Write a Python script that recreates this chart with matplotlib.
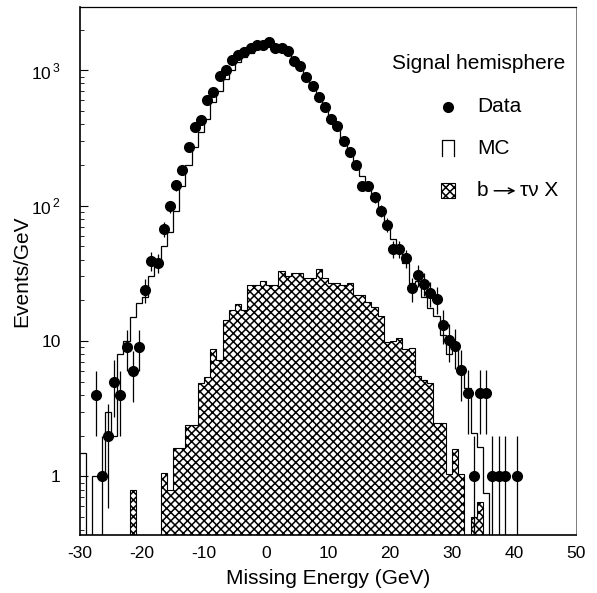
import numpy as np
import matplotlib
matplotlib.use("Agg")
import matplotlib.pyplot as plt
from matplotlib.patches import Rectangle

plt.rcParams['font.family'] = ['Liberation Sans', 'DejaVu Sans']
plt.rcParams['mathtext.fontset'] = 'custom'
plt.rcParams['mathtext.rm'] = 'Liberation Sans'
plt.rcParams['axes.unicode_minus'] = False
plt.rcParams['hatch.linewidth'] = 1.1

# data points (bin centres, events/GeV)
data_e = [-27.5, -26.5, -25.5, -24.5, -23.5, -22.5, -21.5, -20.5, -19.5, -18.5,
          -17.5, -16.5, -15.5, -14.5, -13.5, -12.5, -11.5, -10.5, -9.5, -8.5,
          -7.5, -6.5, -5.5, -4.5, -3.5, -2.5, -1.5, -0.5, 0.5, 1.5,
          2.5, 3.5, 4.5, 5.5, 6.5, 7.5, 8.5, 9.5, 10.5, 11.5,
          12.5, 13.5, 14.5, 15.5, 16.5, 17.5, 18.5, 19.5, 20.5, 21.5,
          22.5, 23.5, 24.5, 25.5, 26.5, 27.5, 28.5, 29.5, 30.5, 31.5,
          32.5, 33.5, 34.5, 35.5, 36.5, 37.5, 38.5, 40.5]
data_n = [4, 1, 2, 5, 4, 9, 6, 9, 24, 39,
          38, 67, 99, 141, 182, 272, 380, 430, 600, 690,
          910, 1000, 1200, 1290, 1360, 1470, 1550, 1530, 1620, 1450,
          1450, 1400, 1180, 1070, 900, 770, 640, 540, 440, 390,
          300, 250, 199, 140, 140, 115, 92, 72, 48, 48,
          41, 24.5, 30.7, 26.6, 22.6, 20.5, 13.2, 10.2, 9.2, 6.1,
          4.1, 1, 4.1, 4.1, 1, 1, 1, 1]

# MC histogram, 1 GeV bins starting at -30
mc_start = -30
mc_vals = [1.5, 0, 1.0, 1.0, 3.0, 2.0, 8.0, 10, 15, 19,
           21, 30, 37, 50, 64, 92, 140, 200, 270, 350,
           440, 580, 700, 860, 1000, 1150, 1260, 1350, 1440, 1500,
           1520, 1500, 1440, 1380, 1230, 1080, 930, 790, 660, 550,
           455, 380, 310, 255, 205, 165, 135, 112, 92, 74,
           57, 48, 38, 27, 28, 21, 17.4, 15.4, 11, 8,
           9, 6.5, 4.5, 2.1, 1.65, 0.75, 0, 0]

# b -> tau nu X, 1 GeV bins starting at -22
sig_start = -22
sig_vals = [0.8, 0, 0, 0, 0, 1.06, 0.8, 1.63, 1.63, 2.4,
            2.4, 4.9, 5.4, 8.7, 7.3, 14.4, 16.9, 18.9, 16.9, 26,
            26, 28, 26, 26, 32.7, 30, 32, 32, 29, 29,
            34, 29, 27, 27, 25.9, 26.7, 21.8, 22, 19.5, 17.8,
            15.4, 9.8, 10, 10.6, 8.7, 8.9, 5.5, 5.2, 4.9, 2.5,
            2.5, 1.05, 1.6, 1.05, 0, 0.5, 0.65]

fig = plt.figure(figsize=(5.97, 5.93), dpi=100)
ax = fig.add_axes([0.134, 0.098, 0.831, 0.89])

sig_edges = sig_start + np.arange(len(sig_vals) + 1)
ax.stairs(sig_vals, sig_edges, fill=True, baseline=1e-3, facecolor='white',
          edgecolor='black', hatch='xxxx', linewidth=0.8)

mc_edges = mc_start + np.arange(len(mc_vals) + 1)
ax.stairs(mc_vals, mc_edges, baseline=None, color='black', linewidth=0.9)

data_n = np.array(data_n, dtype=float)
err = np.sqrt(data_n)
lo = np.minimum(err, data_n - 1e-3)
ax.errorbar(data_e, data_n, yerr=[lo, err], fmt='o', color='black',
            ms=7, elinewidth=0.9, capsize=0)

ax.set_yscale('log')
ax.set_xlim(-30, 50)
ax.set_ylim(0.37, 2930)
ax.set_xticks(np.arange(-30, 51, 10))
ax.set_yticks([1, 10, 100, 1000])
ax.set_yticklabels(['1', '10', r'$10^{\,2}$', r'$10^{\,3}$'])
ax.tick_params(axis='both', which='both', direction='in', labelsize=12.5)
ax.tick_params(axis='y', which='major', length=6, pad=14)
ax.tick_params(axis='y', which='minor', length=3)
ax.tick_params(axis='x', which='major', length=0, pad=8)

for s in ['left', 'bottom']:
    ax.spines[s].set_linewidth(1.2)
ax.spines['top'].set_linewidth(0.9)
ax.spines['right'].set_linewidth(0.6)
ax.spines['right'].set_color('0.4')

ax.set_xlabel('Missing Energy (GeV)', fontsize=15, labelpad=6)
ax.set_ylabel('Events/GeV', fontsize=15, labelpad=0)

# legend drawn by hand
tr = ax.transAxes
ax.text(0.629, 0.894, 'Signal hemisphere', transform=tr, fontsize=15,
        va='center', ha='left')
ax.plot([0.742], [0.811], 'o', color='black', ms=7, transform=tr)
ax.text(0.80, 0.811, 'Data', transform=tr, fontsize=15, va='center')
ax.plot([0.730, 0.730, 0.754, 0.754], [0.717, 0.749, 0.749, 0.717],
        color='black', lw=0.9, transform=tr)
ax.text(0.80, 0.733, 'MC', transform=tr, fontsize=15, va='center')
ax.add_patch(Rectangle((0.728, 0.639), 0.028, 0.028, transform=tr,
                       facecolor='white', edgecolor='black', hatch='xxxx',
                       lw=0.8))
ax.text(0.80, 0.653, 'b', transform=tr, fontsize=15, va='center')
ax.annotate('', xy=(0.878, 0.652), xytext=(0.835, 0.652), xycoords=tr,
            textcoords=tr,
            arrowprops=dict(arrowstyle='->', lw=1.1, color='black',
                            shrinkA=0, shrinkB=0, mutation_scale=10))
ax.text(0.887, 0.653, 'τν X', transform=tr, fontsize=15, va='center')

fig.savefig('out.png', dpi=100)
